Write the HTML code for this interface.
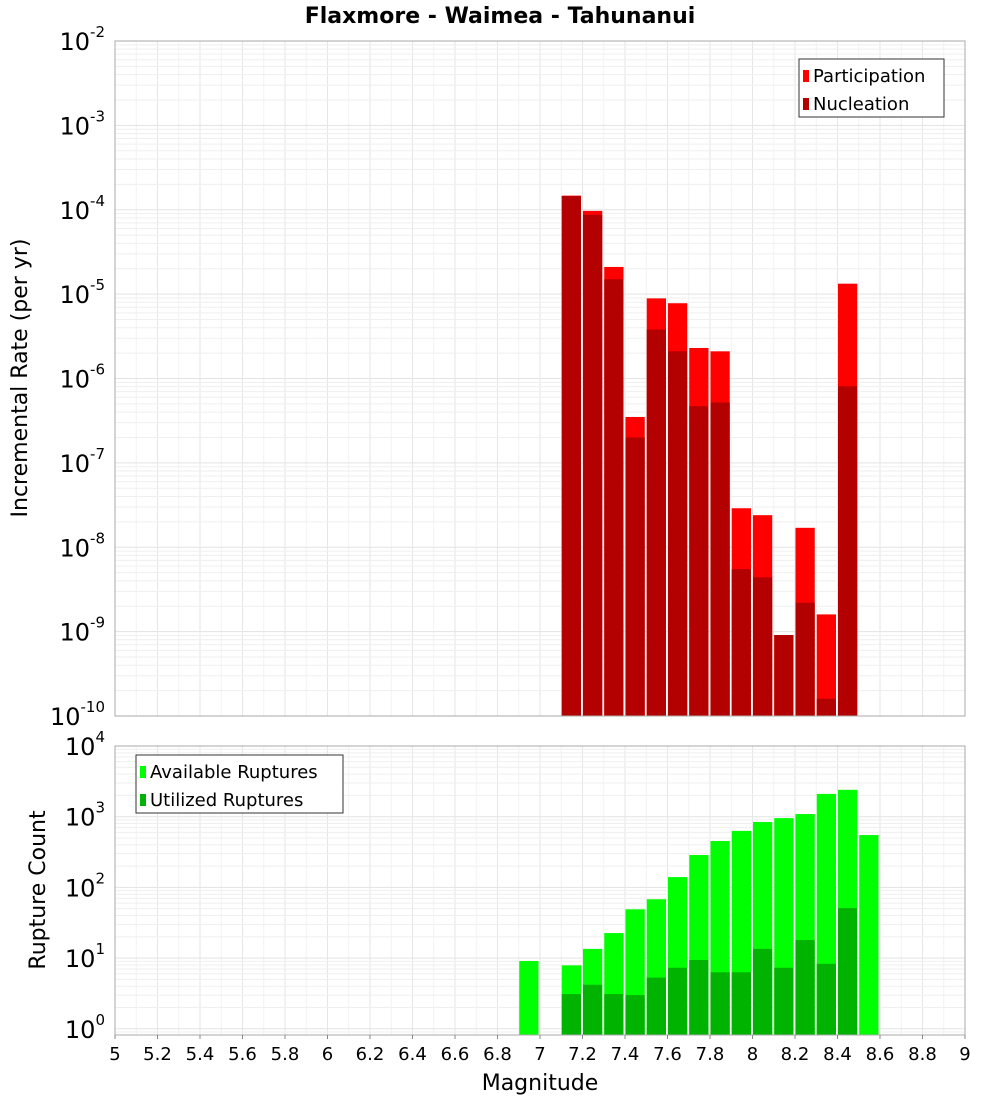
<!DOCTYPE html>
<html><head><meta charset="utf-8"><style>
html,body{margin:0;padding:0;background:#fff;}
svg text{font-family:"DejaVu Sans","Liberation Sans",sans-serif;}
</style></head><body>
<svg id="chart" width="1000" height="1100" viewBox="0 0 1000 1100" xmlns="http://www.w3.org/2000/svg">
<text x="500" y="23" text-anchor="middle" font-size="22" font-weight="bold">Flaxmore - Waimea - Tahunanui</text>
<g id="gtop"></g><g id="gbot"></g><g id="xax"></g>
</svg>
<script>
const binStarts=[7.1,7.2,7.3,7.4,7.5,7.6,7.7,7.8,7.9,8.0,8.1,8.2,8.3,8.4];
const participation=[1.47e-4,9.7e-5,2.1e-5,3.5e-7,8.9e-6,7.8e-6,2.3e-6,2.1e-6,2.9e-8,2.4e-8,9.1e-10,1.7e-8,1.6e-9,1.33e-5];
const nucleation=[1.45e-4,8.7e-5,1.5e-5,2.0e-7,3.8e-6,2.1e-6,4.7e-7,5.2e-7,5.5e-9,4.4e-9,9.1e-10,2.2e-9,1.6e-10,8.1e-7];
const countBins=[6.9,7.1,7.2,7.3,7.4,7.5,7.6,7.7,7.8,7.9,8.0,8.1,8.2,8.3,8.4,8.5];
const available=[9.1,7.9,13.5,22.6,49,68,140,287,453,630,842,955,1090,2100,2400,550];
const utilized=[0,3.1,4.2,3.1,3.0,5.3,7.3,9.4,6.3,6.3,13.5,7.3,18,8.3,51,0];
const xTicks=[5,5.2,5.4,5.6,5.8,6,6.2,6.4,6.6,6.8,7,7.2,7.4,7.6,7.8,8,8.2,8.4,8.6,8.8,9];

const NS="http://www.w3.org/2000/svg";
const L=115,R=965;
const x=m=>L+(m-5)*(R-L)/4;
const T1=41,B1=716,T2=746,B2=1035;
const y1=v=>T1+(-2-Math.log10(v))*(B1-T1)/8;
const y2=v=>T2+(4-Math.log10(v))*70.7;
function mk(p,tag,a){const e=document.createElementNS(NS,tag);for(const k in a)e.setAttribute(k,a[k]);p.appendChild(e);return e;}
const gTop=document.getElementById('gtop'),gBot=document.getElementById('gbot'),xax=document.getElementById('xax');

function grid(g,T,B,yf,dmin,dmax){
  for(let i=0;i<=40;i++){const xx=L+i*(R-L)/40;const l=mk(g,'line',{x1:xx,x2:xx,y1:T,y2:B,stroke:i%2?'#f2f2f2':'#e6e6e6','stroke-width':1});
  
  }
  for(let d=dmin;d<dmax;d++)for(let k=1;k<10;k++){const yy=yf(k*Math.pow(10,d));if(yy<T||yy>B)continue;
   const l=mk(g,'line',{x1:L,x2:R,y1:yy,y2:yy,stroke:k==1?'#e3e3e3':'#efefef','stroke-width':1});
   
   }
}
grid(gTop,T1,B1,y1,-10,-2);
grid(gBot,T2,B2,y2,-1,4);

function bars(g,bins,vals,yf,B,color,name){
  bins.forEach((m,i)=>{if(!vals[i])return;const yy=Math.max(yf(vals[i]),0);
   const r=mk(g,'rect',{x:x(m)+0.5,y:yy,width:(R-L)/40-2,height:B-yy,fill:color});
   
   });
}
bars(gTop,binStarts,participation,y1,B1,'#ff0000','participation-bar');
bars(gTop,binStarts,nucleation,y1,B1,'#b30000','nucleation-bar');
bars(gBot,countBins,available,y2,B2,'#00ff00','available-bar');
bars(gBot,countBins,utilized,y2,B2,'#00b300','utilized-bar');

[[T1,B1],[T2,B2]].forEach(([T,B])=>{const r=mk(xax,'rect',{x:L,y:T,width:R-L,height:B-T,fill:'none',stroke:'#aaa','stroke-width':1});
 
 });

function ylab(g,yy,exp,name){const t=mk(g,'text',{x:105,y:yy+9,'text-anchor':'end','font-size':24});
 
 
 t.innerHTML='10<tspan dy="-13" font-size="15">'+exp+'</tspan>';}
for(let d=-10;d<=-2;d++)ylab(gTop,y1(Math.pow(10,d)),d,'y-tick-label');
for(let d=0;d<=4;d++)ylab(gBot,y2(Math.pow(10,d)),d,'count-tick-label');

xTicks.forEach(m=>{const t=mk(xax,'text',{x:x(m),y:1060,'text-anchor':'middle','font-size':18});
 
 
 t.textContent=String(m);
 const l=mk(xax,'line',{x1:x(m),x2:x(m),y1:B2,y2:B2+4,stroke:'#888'});
 
 });

function txt(s,a,name){const t=mk(xax,'text',a);t.textContent=s;
 
 return t;}
txt('Magnitude',{x:540,y:1090,'text-anchor':'middle','font-size':22},'x-axis-title');
txt('Incremental Rate (per yr)',{x:27,y:378,'text-anchor':'middle','font-size':22,transform:'rotate(-90 27 378)'},'y-axis-title');
txt('Rupture Count',{x:45,y:890,'text-anchor':'middle','font-size':22,transform:'rotate(-90 45 890)'},'count-axis-title');

function legend(lx,ly,w,items,name){const g=mk(xax,'g',{});
 
 
 mk(g,'rect',{x:lx,y:ly,width:w,height:58,fill:'#fff',stroke:'#333'});
 items.forEach((it,i)=>{mk(g,'rect',{x:lx+4,y:ly+11+i*28,width:6,height:12,fill:it[1]});
  const t=mk(g,'text',{x:lx+14,y:ly+23+i*28,'font-size':18});t.textContent=it[0];
  
  });}
legend(799,59,145,[['Participation','#ff0000'],['Nucleation','#b30000']],'rate-legend');
legend(136,755,207,[['Available Ruptures','#00ff00'],['Utilized Ruptures','#00b300']],'count-legend');
</script>
</body></html>
